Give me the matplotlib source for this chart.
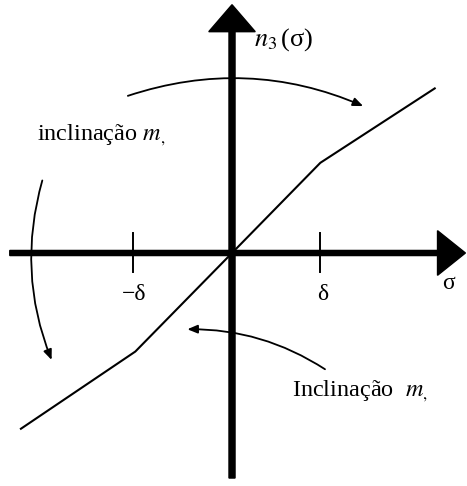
import matplotlib.pyplot as plt

plt.rcParams['font.family'] = ['Liberation Serif', 'DejaVu Serif']
plt.rcParams['mathtext.fontset'] = 'stix'

# piecewise-linear characteristic n3(sigma), delta = 1
sigma = [-2.27, -1.04, 0.0, 0.95, 2.18]
n3 = [-1.89, -1.06, 0.0, 0.97, 1.77]
delta_ticks = [-1.07, 0.95]
delta_labels = ['\u2212\u03b4', '\u03b4']

fig = plt.figure(figsize=(4.67, 4.86), dpi=100)
ax = fig.add_axes([0, 0, 1, 1])
ax.set_xlim(-2.495, 2.527)
ax.set_ylim(-2.505, 2.72)
ax.set_aspect('equal')
ax.axis('off')

# axes with big arrow heads
ax.arrow(-2.39, 0, 4.9, 0, width=0.055, head_width=0.48, head_length=0.3,
         length_includes_head=True, fc='k', ec='k', zorder=3)
ax.arrow(0, -2.42, 0, 5.09, width=0.065, head_width=0.5, head_length=0.29,
         length_includes_head=True, fc='k', ec='k', zorder=3)

# delta ticks
for t, lab in zip(delta_ticks, delta_labels):
    ax.plot([t, t], [-0.2, 0.22], color='k', lw=1.4)
    ax.text(t + 0.02, -0.45, lab, ha='center', va='center', fontsize=17)

ax.plot(sigma, n3, color='k', lw=1.5, zorder=4)

ax.text(2.33, -0.33, '\u03c3', ha='center', va='center', fontsize=17)
ax.text(0.24, 2.30, '$n_3\\,$(\u03c3)', ha='left', va='center', fontsize=19)
ax.text(-2.10, 1.27, 'inclinação $m_{,}$', ha='left', va='center', fontsize=17.5)
ax.text(0.65, -1.49, 'Inclinação  $m_{,}$', ha='left', va='center', fontsize=17.5)

# curved arrows
arw = dict(arrowstyle='-|>,head_length=0.6,head_width=0.25', color='k', lw=1.3,
           shrinkA=0, shrinkB=0)
ax.annotate('', xy=(1.41, 1.58), xytext=(-1.12, 1.69),
            arrowprops=dict(arw, connectionstyle='arc3,rad=-0.19'))
ax.annotate('', xy=(-1.94, -1.15), xytext=(-2.04, 0.78),
            arrowprops=dict(arw, connectionstyle='arc3,rad=0.17'))
ax.annotate('', xy=(-0.48, -0.82), xytext=(1.0, -1.25),
            arrowprops=dict(arw, connectionstyle='arc3,rad=0.15'))

fig.savefig('out.png', dpi=100)
